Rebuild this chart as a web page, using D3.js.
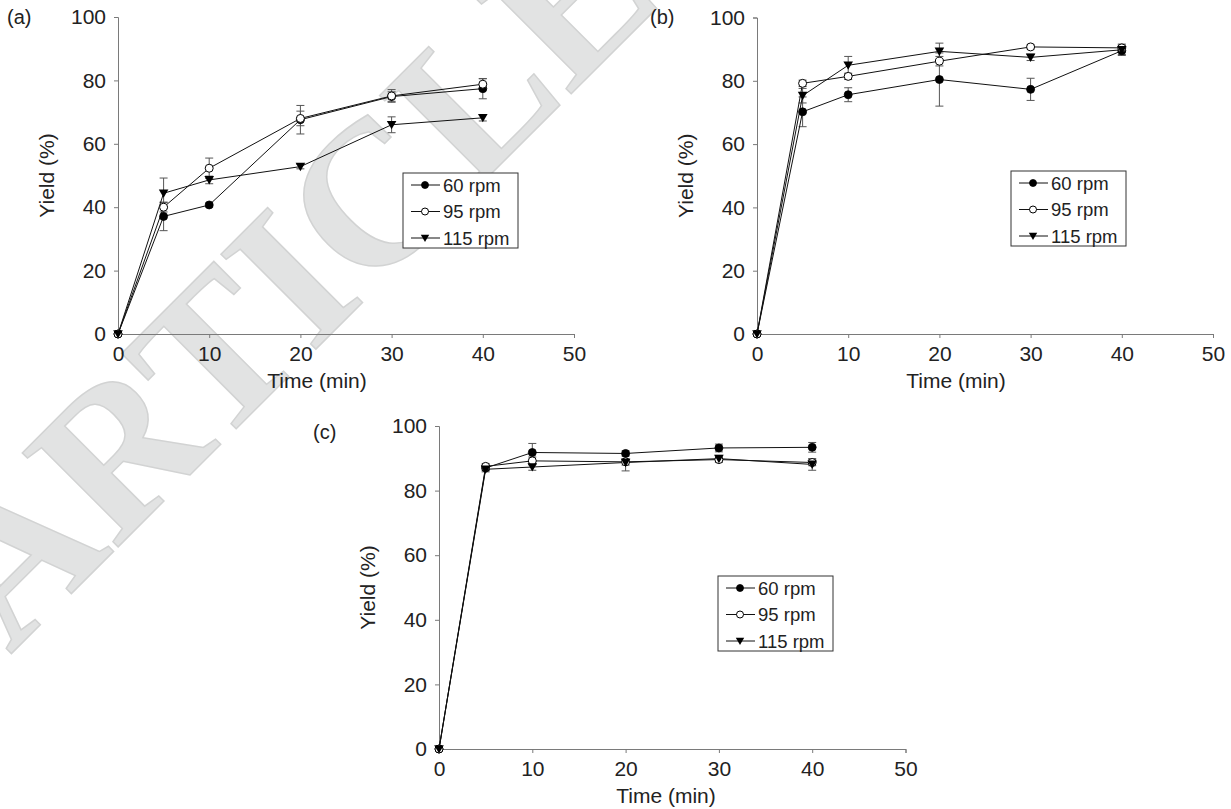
<!DOCTYPE html>
<html>
<head>
<meta charset="utf-8">
<script src="https://cdn.jsdelivr.net/npm/d3@7"></script>
<style>
  html, body { margin: 0; padding: 0; background: #fff; }
  svg { display: block; }
  text { font-family: "Liberation Sans", Arial, sans-serif; fill: #222; }
</style>
</head>
<body>
<svg id="fig" width="1231" height="809"></svg>
<script>
// Sampling times (min)
const times = [0, 5, 10, 20, 30, 40];
const seriesNames = ["60 rpm", "95 rpm", "115 rpm"];
const xTicks = [0, 10, 20, 30, 40, 50];
const yTicks = [0, 20, 40, 60, 80, 100];

// Panel (a): yield (%) and error bars
const yieldA60  = [0, 37.1, 40.7, 67.6, 74.9, 77.4];
const yieldA95  = [0, 40.0, 52.3, 68.0, 75.1, 78.8];
const yieldA115 = [0, 44.4, 48.6, 52.8, 66.0, 68.2];
const errA60  = [0, 4.5, 0.6, 4.5, 1.5, 3.2];
const errA95  = [0, 1.5, 3.2, 2.3, 2.0, 1.7];
const errA115 = [0, 4.8, 1.2, 0.7, 2.5, 1.0];

// Panel (b)
const yieldB60  = [0, 70.2, 75.6, 80.4, 77.3, 89.5];
const yieldB95  = [0, 79.2, 81.4, 86.2, 90.7, 90.4];
const yieldB115 = [0, 75.3, 84.9, 89.3, 87.4, 89.8];
const errB60  = [0, 4.7, 2.2, 8.4, 3.5, 1.5];
const errB95  = [0, 1.0, 1.0, 1.5, 0.6, 1.2];
const errB115 = [0, 2.3, 2.8, 2.6, 1.0, 1.5];

// Panel (c)
const yieldC60  = [0, 87.0, 91.8, 91.5, 93.2, 93.4];
const yieldC95  = [0, 87.5, 89.2, 88.9, 89.6, 88.7];
const yieldC115 = [0, 86.6, 87.3, 88.7, 89.9, 88.1];
const errC60  = [0, 0.8, 2.8, 0.8, 1.2, 1.5];
const errC95  = [0, 0.8, 1.2, 1.0, 0.8, 1.0];
const errC115 = [0, 0.8, 1.0, 2.6, 1.0, 1.8];

const svg = d3.select("#fig");
svg.append("rect").attr("width", 1231).attr("height", 809).attr("fill", "#fff");

// Diagonal "ARTICLE" watermark behind the plots
svg.append("text")
  .attr("transform", "translate(10,655) rotate(-45)")
  .attr("x", 0).attr("y", 0)
  .style("font-family", "'Liberation Serif', 'Times New Roman', serif")
  .style("font-weight", "bold")
  .style("font-size", "205px")
  .style("fill", "#e2e3e3")
  .style("stroke", "#d2d3d3")
  .style("stroke-width", 1.5)
  .text("ARTICLE");

const markerKinds = ["filled", "open", "triangle"];

function drawMarker(g, kind, x, y, s) {
  if (kind === "filled") {
    g.append("circle").attr("cx", x).attr("cy", y).attr("r", s * 0.5)
      .attr("fill", "#000").attr("stroke", "#000").attr("stroke-width", 0.8);
  } else if (kind === "open") {
    g.append("circle").attr("cx", x).attr("cy", y).attr("r", s * 0.5)
      .attr("fill", "#fff").attr("stroke", "#000").attr("stroke-width", 1);
  } else {
    const h = s * 0.6;
    g.append("path")
      .attr("d", `M${x - h},${y - h * 0.8} L${x + h},${y - h * 0.8} L${x},${y + h * 0.95} Z`)
      .attr("fill", "#000");
  }
}

function drawPanel(cfg) {
  const g = svg.append("g");
  const x = d3.scaleLinear().domain([0, 50]).range([cfg.x0, cfg.x1]);
  const y = d3.scaleLinear().domain([0, 100]).range([cfg.y0, cfg.y1]);

  const xAxis = g.append("g").attr("transform", `translate(0,${cfg.y0})`)
    .call(d3.axisBottom(x).tickValues(xTicks).tickSize(4).tickPadding(8).tickFormat(d3.format("d")));
  const yAxis = g.append("g").attr("transform", `translate(${cfg.x0},0)`)
    .call(d3.axisLeft(y).tickValues(yTicks).tickSize(4).tickPadding(8).tickFormat(d3.format("d")));
  [xAxis, yAxis].forEach(a => {
    a.select(".domain").attr("stroke", "#7a7a7a").attr("stroke-width", 1);
    a.selectAll(".tick line").attr("stroke", "#7a7a7a");
    a.selectAll(".tick text").style("font-size", "21px").style("font-family", "'Liberation Sans', Arial, sans-serif").attr("fill", "#222");
  });

  g.append("text")
    .attr("x", cfg.titleX).attr("y", cfg.y0 + 54)
    .attr("text-anchor", "middle").style("font-size", "21px")
    .text("Time (min)");
  g.append("text")
    .attr("transform", `translate(${cfg.x0 - 64},${(cfg.y0 + cfg.y1) / 2}) rotate(-90)`)
    .attr("text-anchor", "middle").style("font-size", "21px")
    .text("Yield (%)");
  g.append("text")
    .attr("x", cfg.labelX).attr("y", cfg.labelY)
    .style("font-size", "20px").text(cfg.label);

  const line = d3.line().x((d, i) => x(times[i])).y(d => y(d));

  // Error bars
  cfg.series.forEach((s) => {
    s.values.forEach((v, i) => {
      const e = s.errors[i];
      if (!e) return;
      const cx = x(times[i]);
      const eg = g.append("g").attr("stroke", "#555").attr("stroke-width", 1);
      eg.append("line").attr("x1", cx).attr("x2", cx).attr("y1", y(v - e)).attr("y2", y(v + e));
      eg.append("line").attr("x1", cx - 4).attr("x2", cx + 4).attr("y1", y(v - e)).attr("y2", y(v - e));
      eg.append("line").attr("x1", cx - 4).attr("x2", cx + 4).attr("y1", y(v + e)).attr("y2", y(v + e));
    });
  });

  // Lines
  cfg.series.forEach((s) => {
    g.append("path").attr("d", line(s.values))
      .attr("fill", "none").attr("stroke", "#111").attr("stroke-width", 1);
  });
  // Markers
  cfg.series.forEach((s, k) => {
    s.values.forEach((v, i) => drawMarker(g, markerKinds[k], x(times[i]), y(v), 8));
  });

  // Legend
  const lg = g.append("g").attr("transform", `translate(${cfg.legX},${cfg.legY})`);
  lg.append("rect").attr("x", 0).attr("y", 0).attr("width", 115).attr("height", 75)
    .attr("fill", "#fff").attr("stroke", "#333").attr("stroke-width", 1);
  seriesNames.forEach((name, k) => {
    const ry = 12 + k * 26.5;
    lg.append("line").attr("x1", 8).attr("x2", 37).attr("y1", ry).attr("y2", ry)
      .attr("stroke", "#111").attr("stroke-width", 1);
    drawMarker(lg, markerKinds[k], 22, ry, 7);
    lg.append("text").attr("x", 40).attr("y", ry + 6.5)
      .style("font-size", "18.5px").text(name);
  });
}

drawPanel({
  x0: 118, x1: 574, y0: 334, y1: 17, label: "(a)", labelX: 7, labelY: 24,
  titleX: 317, legX: 403, legY: 173,
  series: [
    { values: yieldA60, errors: errA60 },
    { values: yieldA95, errors: errA95 },
    { values: yieldA115, errors: errA115 }
  ]
});
drawPanel({
  x0: 757, x1: 1213, y0: 334, y1: 17.5, label: "(b)", labelX: 650, labelY: 24,
  titleX: 956, legX: 1011, legY: 171,
  series: [
    { values: yieldB60, errors: errB60 },
    { values: yieldB95, errors: errB95 },
    { values: yieldB115, errors: errB115 }
  ]
});
drawPanel({
  x0: 439, x1: 905.5, y0: 749, y1: 426, label: "(c)", labelX: 313, labelY: 439,
  titleX: 666, legX: 718, legY: 576,
  series: [
    { values: yieldC60, errors: errC60 },
    { values: yieldC95, errors: errC95 },
    { values: yieldC115, errors: errC115 }
  ]
});
</script>
</body>
</html>
